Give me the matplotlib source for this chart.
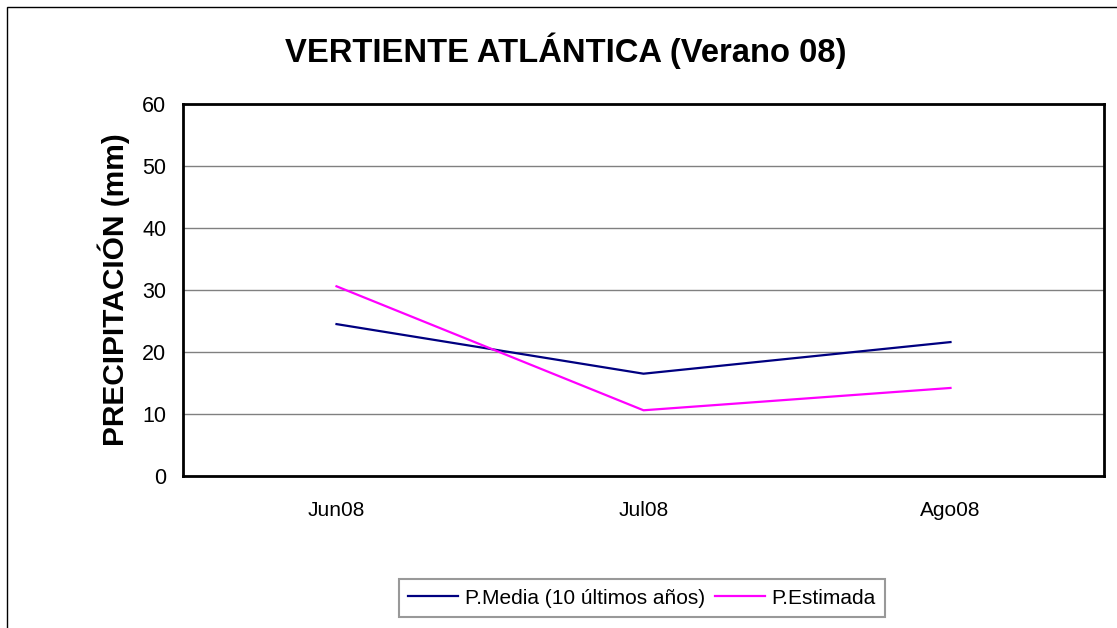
import matplotlib
matplotlib.use("Agg")
import matplotlib.pyplot as plt
from matplotlib.patches import Rectangle

categories = ["Jun08", "Jul08", "Ago08"]
p_media = [24.5, 16.5, 21.6]
p_estimada = [30.6, 10.6, 14.2]
yticks = [0, 10, 20, 30, 40, 50, 60]

plt.rcParams['font.family'] = ['Liberation Sans', 'DejaVu Sans']

W, H = 1117, 628
fig = plt.figure(figsize=(W/100, H/100), dpi=100)
fig.patch.set_facecolor('white')

# outer chart border
fig.patches.append(Rectangle((7/W, -0.1), 1.2, 1 - 7/H + 0.1, transform=fig.transFigure,
                             fill=False, edgecolor='black', linewidth=1.0))

left, right, top, bottom = 183, 1104, 104, 476
ax = fig.add_axes([left/W, 1 - bottom/H, (right-left)/W, (bottom-top)/H])

x = list(range(len(categories)))
ax.plot(x, p_media, color='#000080', linewidth=1.6, label='P.Media (10 últimos años)')
ax.plot(x, p_estimada, color='#FF00FF', linewidth=1.6, label='P.Estimada')

ax.set_xlim(-0.5, 2.5)
ax.set_ylim(0, 60)
ax.set_yticks(yticks)
ax.set_xticks(x)
ax.set_xticklabels(categories)
ax.yaxis.grid(True, color='#808080', linewidth=1.0)
ax.set_axisbelow(True)
for s in ax.spines.values():
    s.set_linewidth(2.0)
    s.set_color('black')
ax.tick_params(axis='y', length=0, labelsize=15.5, pad=12)
ax.tick_params(axis='x', length=0, labelsize=15, pad=18)

ax.set_ylabel('PRECIPITACIÓN (mm)', fontsize=21.5, fontweight='bold', labelpad=9)

fig.text(566/W, 1 - 51/H, 'VERTIENTE ATLÁNTICA (Verano 08)', ha='center', va='center',
         fontsize=23.6, fontweight='bold')

leg = fig.legend(loc='center', bbox_to_anchor=(642/W, 1 - 598/H), ncol=2, fontsize=15,
                 frameon=True, fancybox=False, edgecolor='#808080', handlelength=2.4,
                 columnspacing=0.5, handletextpad=0.3, borderpad=0.45, borderaxespad=0)
leg.get_frame().set_linewidth(1.5)

fig.savefig('out.png', dpi=100)
